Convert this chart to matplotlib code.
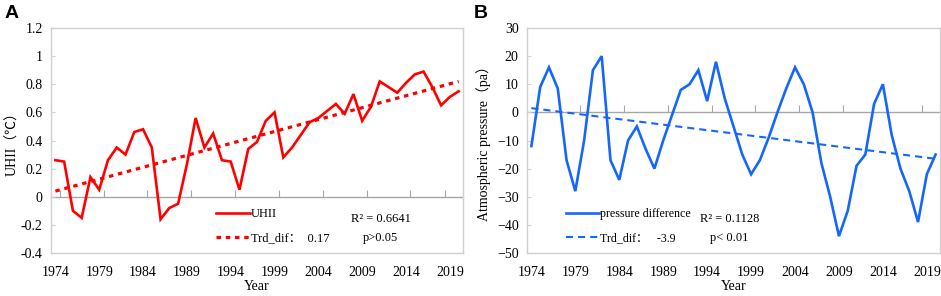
import matplotlib
matplotlib.use("Agg")
import matplotlib.pyplot as plt
from matplotlib.lines import Line2D

# data
years = list(range(1974, 2021))

uhii = [0.26, 0.25, -0.10, -0.15, 0.14, 0.05, 0.26, 0.35, 0.30, 0.46,
        0.48, 0.35, -0.16, -0.08, -0.05, 0.23, 0.56, 0.35, 0.45, 0.26,
        0.25, 0.05, 0.34, 0.39, 0.54, 0.60, 0.28, 0.35, 0.44, 0.53,
        0.56, 0.61, 0.66, 0.59, 0.73, 0.54, 0.64, 0.82, 0.78, 0.74,
        0.81, 0.87, 0.89, 0.78, 0.65, 0.71, 0.75]

pressure = [-12, 9, 16, 8.5, -17, -28, -10, 15, 20, -17,
            -24, -10, -5, -13, -20, -10, -1, 8, 10, 15,
            4, 18, 5, -5, -15, -22, -17, -9, 0, 8.5,
            16, 10, 0, -18, -30, -44, -35, -19, -15, 3,
            10, -8, -20, -28, -39, -22, -15]

# trend lines (start / end values as drawn)
trend_years = [1974, 2020]
trend_uhii = [0.04, 0.82]
trend_pressure = [1.5, -16.5]

xtick_labels = [1974, 1979, 1984, 1989, 1994, 1999, 2004, 2009, 2014, 2019]
yticks_a = [-0.4, -0.2, 0, 0.2, 0.4, 0.6, 0.8, 1, 1.2]
yticks_b = [-50, -40, -30, -20, -10, 0, 10, 20, 30]

SERIF = ["Liberation Serif", "Noto Sans CJK SC", "DejaVu Sans"]
plt.rcParams["font.family"] = SERIF

RED = "#FF0000"
BLUE = "#1467FA"
FRAME = "#D0D0D0"
ZERO = "#A6A6A6"
FS = 10
LFS = 9


def style_axes(ax, yticks, ylabels, ylabel, ypad):
    ax.set_xlim(years[0] - 0.5, years[-1] + 0.5)
    ax.set_ylim(yticks[0], yticks[-1])
    for sp in ax.spines.values():
        sp.set_color(FRAME)
        sp.set_linewidth(1.0)
    ax.set_xticks(xtick_labels)
    ax.set_xticklabels([str(y) for y in xtick_labels], fontsize=FS)
    ax.tick_params(axis="x", length=0, pad=9)
    ax.set_yticks(yticks)
    ax.set_yticklabels(ylabels, fontsize=FS)
    ax.tick_params(axis="y", direction="in", length=3, color=FRAME, pad=6)
    ax.set_xlabel("Year", fontsize=FS, labelpad=1)
    ax.set_ylabel(ylabel, fontsize=FS, labelpad=ypad)

    # category axis crossing at zero, ticks between categories
    zax = ax.secondary_xaxis(0, transform=ax.transData)
    zax.set_xticks([y + 0.5 for y in xtick_labels[:-1]] + [2018.5])
    zax.tick_params(direction="in", length=5, color=ZERO, labelbottom=False)
    zax.spines["bottom"].set_color(ZERO)
    zax.spines["bottom"].set_linewidth(1.0)


fig = plt.figure(figsize=(9.41, 2.96), dpi=100)

# ---- panel A ----
ax_a = fig.add_axes([51 / 941, 43 / 296, 412 / 941, 225 / 296])
ax_a.plot(years, uhii, color=RED, lw=1.9, solid_joinstyle="miter")
ax_a.plot(trend_years, trend_uhii, color=RED, lw=2.3, linestyle=(0, (1.4, 1.5)))
ylab_a = ["-0.4", "-0.2", "0", "0.2", "0.4", "0.6", "0.8", "1", "1.2"]
style_axes(ax_a, yticks_a, ylab_a, "UHII（℃）", 1)

handles_a = [Line2D([], [], color=RED, lw=1.9),
             Line2D([], [], color=RED, lw=2.3, linestyle=(0, (1.4, 1.5)))]
ax_a.legend(handles_a, ["UHII", "Trd_dif：  0.17"], loc="upper left",
            bbox_to_anchor=(0.40, 0.20), frameon=False, fontsize=LFS,
            handlelength=2.7, handletextpad=0.1, labelspacing=1.0,
            borderaxespad=0, borderpad=0)
ax_a.text(0.80, 0.152, "R² = 0.6641", transform=ax_a.transAxes,
          ha="center", va="center", fontsize=LFS)
ax_a.text(0.80, 0.066, "p>0.05", transform=ax_a.transAxes,
          ha="center", va="center", fontsize=LFS)
fig.text(5 / 941, 1 - 14 / 296, "A", fontsize=14, fontweight="bold",
         family="Liberation Sans", va="center")

# ---- panel B ----
ax_b = fig.add_axes([527 / 941, 43 / 296, 413 / 941, 225 / 296])
ax_b.plot(years, pressure, color=BLUE, lw=1.9, solid_joinstyle="miter")
ax_b.plot(trend_years, trend_pressure, color=BLUE, lw=1.5, linestyle=(0, (3.4, 2.4)))
ylab_b = ["−50", "−40", "−30", "−20", "−10", "0", "10", "20", "30"]
style_axes(ax_b, yticks_b, ylab_b, "Atmospheric pressure（pa）", 4)

handles_b = [Line2D([], [], color=BLUE, lw=1.9),
             Line2D([], [], color=BLUE, lw=1.5, linestyle=(0, (3.4, 2.4)))]
ax_b.legend(handles_b, ["pressure difference", "Trd_dif：   -3.9"], loc="upper left",
            bbox_to_anchor=(0.094, 0.20), frameon=False, fontsize=8.6,
            handlelength=2.8, handletextpad=0.1, labelspacing=1.05,
            borderaxespad=0, borderpad=0)
ax_b.text(0.49, 0.152, "R² = 0.1128", transform=ax_b.transAxes,
          ha="center", va="center", fontsize=LFS)
ax_b.text(0.49, 0.066, "p< 0.01", transform=ax_b.transAxes,
          ha="center", va="center", fontsize=LFS)
fig.text(474 / 941, 1 - 14 / 296, "B", fontsize=14, fontweight="bold",
         family="Liberation Sans", va="center")

fig.savefig("out.png", dpi=100)
